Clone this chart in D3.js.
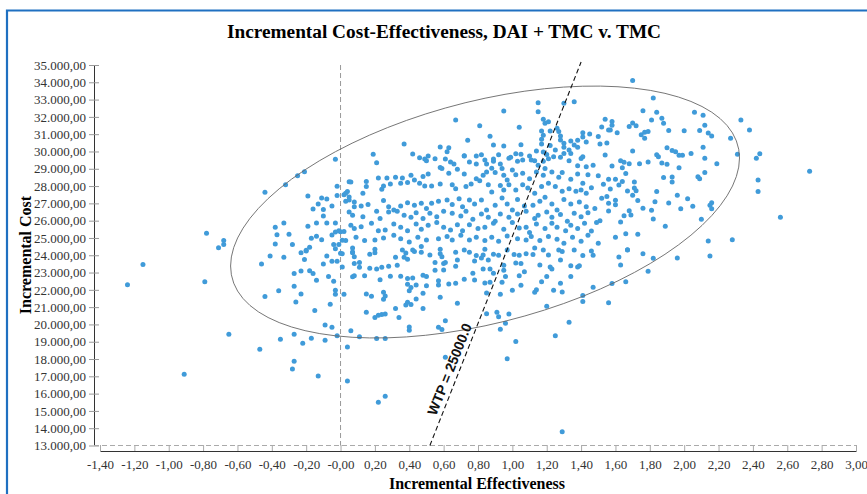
<!DOCTYPE html>
<html><head><meta charset="utf-8">
<script src="https://cdn.jsdelivr.net/npm/d3@7"></script>
<style>body{margin:0;background:#fff}svg{display:block}</style>
</head><body><svg id="c" width="867" height="494"></svg>
<script>
// ---- data: [incremental effectiveness, incremental cost in thousands] ----
const chartTitle = "Incremental Cost-Effectiveness, DAI + TMC v. TMC";
const xTitle = "Incremental Effectiveness";
const yTitle = "Incremental Cost";
const xTicks = [-1.4,-1.2,-1.0,-0.8,-0.6,-0.4,-0.2,0,0.2,0.4,0.6,0.8,1.0,1.2,1.4,1.6,1.8,2.0,2.2,2.4,2.6,2.8,3.0];
const xTickLabels = ["-1,40","-1,20","-1,00","-0,80","-0,60","-0,40","-0,20","-0,00","0,20","0,40","0,60","0,80","1,00","1,20","1,40","1,60","1,80","2,00","2,20","2,40","2,60","2,80","3,00"];
const yTicksK = [13,14,15,16,17,18,19,20,21,22,23,24,25,26,27,28,29,30,31,32,33,34,35];
const wtpK = 25;            // willingness to pay, thousands per unit effect
const wtpLabel = "WTP = 25000.0";
const ellipseCenter = [0.841, 26.50];
const ellipseL = [[1.481, 0], [3.122, 6.58]];

const ptsLeft = [[-1.15,23.46],[-1.24,22.30],[-0.79,22.47],[-0.65,19.43],[-0.91,17.12],[-0.47,18.57],[-0.35,19.14],[-0.27,19.43],[-0.28,17.43],[-0.27,17.87],[-0.22,18.91],[-0.17,19.20],[-0.13,17.02],[-0.09,19.09],[-0.09,19.97],[-0.05,19.84],[-0.02,19.34],[0.04,16.73],[0.04,18.70],[0.06,19.64],[-0.44,21.61],[-0.36,21.95],[-0.26,21.30],[-0.27,22.21],[-0.23,21.76],[-0.15,20.80],[-0.06,21.17],[-0.03,21.75],[-0.03,21.98],[0.02,21.75],[-0.04,22.50],[-0.07,22.77],[-0.14,22.55],[-0.16,22.94],[-0.18,23.11],[-0.23,23.09],[-0.27,22.94],[-0.46,23.50],[-0.41,23.96],[-0.33,23.88],[-0.23,24.15],[-0.20,24.25],[-0.21,23.75],[-0.10,23.50],[-0.08,23.96],[-0.05,23.65],[-0.02,23.65],[0.01,24.09],[0.01,23.32],[0.07,22.75],[0.07,24.15],
[-0.03,29.55],[-0.21,28.83],[-0.25,28.60],[-0.32,28.08],[-0.44,27.64],[-0.78,25.27],[-0.68,24.85],[-0.68,24.62],[-0.71,24.44],[0.05,28.25],[-0.02,27.99],[-0.02,27.45],[-0.19,27.43],[0.02,27.50],[0.04,27.68],[-0.11,27.31],[-0.08,27.25],[-0.13,26.97],[-0.05,26.85],[-0.16,26.68],[-0.10,26.64],[-0.10,26.27],[0.05,26.50],[0.03,27.12],[0.05,27.20],[0.08,26.81],[-0.33,25.87],[-0.38,25.62],[-0.37,25.19],[-0.30,25.21],[-0.19,25.68],[-0.14,25.87],[-0.08,25.87],[-0.03,25.87],[0.06,25.73],[-0.05,25.17],[-0.03,25.35],[-0.01,25.42],[0.00,25.36],[-0.14,25.10],[-0.17,24.98],[-0.11,24.90],[0.01,24.87],[-0.04,24.62],[-0.01,24.62],[-0.28,24.62],[-0.38,24.65],[-0.18,24.46],[-0.20,24.29],[-0.03,24.38],[0.00,24.11],[0.07,24.19],[0.05,27.37]];

const ptsRight = [[1.70,34.11],[1.82,33.09],[1.76,32.36],[1.84,32.27],[1.81,31.82],[1.87,31.92],[1.88,31.63],[1.91,31.22],[2.00,31.20],[2.06,32.27],[2.11,32.09],[2.12,31.51],[2.09,31.22],[2.14,31.07],[2.16,30.90],[2.33,31.82],[2.38,31.24],[2.27,30.76],[2.31,29.84],[2.44,29.87],[2.42,29.61],[2.73,28.85],[2.43,28.35],[2.43,27.68],[2.56,26.20],[2.28,24.90],[2.14,24.83],[2.15,23.96],[2.10,26.08],[2.16,27.04],[2.15,26.89],[2.16,26.69],[2.19,29.29],[2.12,29.61],[2.12,28.78],[2.08,28.54],[2.09,28.43],[2.11,30.24],[2.04,29.89],[1.99,29.78],[1.97,29.78],[1.95,29.99],[1.93,30.05],[1.90,30.22],[1.85,29.70],[1.84,29.81],[1.97,29.06],[1.90,29.26],[1.87,29.34],[1.79,29.39],[1.74,29.29],[1.70,30.03],[1.93,28.53],[1.88,28.49],[1.93,28.24],[2.02,27.27],[1.96,27.47],[1.98,26.69],[2.05,26.83],[1.91,27.02],[1.84,27.68],[1.83,27.10],[1.76,26.72],[1.81,26.60],[1.82,26.10],[1.89,25.68],[1.73,27.16],[1.71,27.89],[1.72,27.73],[1.70,27.47],[1.71,28.24],[1.67,27.72],[1.66,28.72],[1.68,26.58],[1.69,26.33],[1.65,26.29],[1.63,25.92],[1.60,26.92],[1.60,27.18],[1.56,26.56],[1.66,25.25],[1.73,25.21],[1.60,25.04],[1.67,24.32],[1.76,24.08],[1.62,23.90],[1.82,23.82],[1.96,23.84],[1.63,29.47],[1.65,29.38],[1.68,29.29],[1.58,29.16],[1.64,29.06],[1.56,28.39],[1.60,28.39],[1.64,28.27],[1.62,28.06],[1.68,31.44],[1.70,31.65],[1.72,31.49],[1.61,31.09],[1.58,31.51],[1.58,31.74],[1.57,31.24],[1.75,30.97],[1.77,30.76],[1.77,31.11],[1.79,31.15],[1.54,29.80],[1.57,27.83],[1.55,27.39],[1.56,27.00],
[1.63,23.44],[1.67,24.31],[1.58,22.36],[1.66,22.47],[1.79,23.07],[1.56,21.26],
[1.47,29.2],[1.50,28.6],[1.46,27.9],[1.52,27.3],[1.48,26.7],[1.51,26.0],[1.46,25.4],[1.50,24.7],[1.47,24.0],[1.53,28.1],[1.49,25.9]];

const ptsLower = [[1.29,13.80],[0.22,15.50],[0.26,15.85],[0.61,18.10],[0.97,18.02],[1.02,19.01],[1.25,19.35],[1.33,20.13],[1.41,21.32],[1.41,21.67],[1.47,22.15],[1.20,21.05],[0.96,20.07],[0.93,19.72],[0.98,20.61],[0.91,20.70],[0.92,20.45],[0.85,20.62],[0.61,20.22],[0.57,19.84],[0.59,19.70],[0.40,19.85],[0.40,19.66],[0.26,19.18],[0.21,19.18],[0.11,19.29],[0.34,20.40],[0.20,20.40],[0.22,20.53],[0.24,20.57],[0.26,20.61],[0.15,20.71],[0.32,20.92],[0.38,21.13],[0.41,21.15],[0.39,21.28],[0.48,20.92],[0.68,21.23],[0.58,21.57],[0.44,21.47],[0.48,21.80],[0.25,21.46],[0.26,21.65],[0.25,21.86],[0.15,21.76],[0.18,21.63],[0.85,21.82],[0.93,21.75],[1.00,21.98],[1.13,21.86],[1.14,22.00],[1.24,21.98],[1.29,21.88],[1.28,22.38],[1.17,22.47],[1.05,22.26],[0.94,22.44],[0.87,22.44],[0.84,22.40],[0.89,22.96],[0.96,22.77],[1.04,22.81],[1.07,23.04],[1.20,22.77],[1.23,23.21],[1.22,23.32],[1.34,22.77],[1.38,23.32],[1.39,23.40],[1.34,23.40],[1.28,23.73],[1.29,24.21],[1.41,23.98],[1.46,24.25],[1.21,24.02],[1.16,23.44],[1.12,24.04],[1.08,24.09],[1.04,24.00],[1.01,24.04],[1.02,23.55],[1.05,23.53],[0.95,23.13],[0.95,23.42],[0.92,24.00],[0.89,24.06],[0.86,23.73],[0.83,23.21],[0.87,23.21],[0.78,22.57],[0.77,22.96],[0.78,23.67],[0.82,23.84],[0.83,24.02],[0.72,22.61],[0.67,22.38],[0.63,22.34],[0.67,23.36],[0.60,23.53],[0.60,23.15],[0.55,23.13],[0.57,22.53],[0.57,22.28],[0.50,22.24],[0.48,22.84],[0.44,22.28],[0.42,22.69],[0.40,21.95],[0.41,22.13],[0.39,22.32],[0.39,22.65],[0.35,22.79],[0.29,22.79],[0.24,23.31],[0.23,22.59],[0.21,23.21],[0.17,23.25],[0.14,22.82],[0.08,22.82],[0.11,23.58],[0.11,23.31],[0.08,23.53],[0.08,23.92],[0.17,24.06],[0.20,24.15],[0.32,23.88],[0.28,23.36],[0.33,23.42],[0.37,23.88],[0.38,24.13],[0.39,23.77],[0.43,24.21],[0.47,24.17],[0.52,24.02],[0.58,24.08],[0.59,23.92],[0.61,23.58],[0.55,23.58],[0.67,24.17],[0.68,23.73],[0.75,24.17],[0.79,23.98],[0.50,22.77]];

const ptsUpper = [[1.15,32.82],[1.15,32.30],[1.30,32.79],[1.36,32.88],[0.95,32.34],[0.67,31.82],[0.81,31.49],[1.04,31.40],[1.18,31.86],[1.19,31.63],[1.21,31.72],[1.17,31.18],[1.18,30.94],[1.22,31.18],[1.26,31.34],[1.27,31.15],[1.28,30.90],[1.28,30.66],[1.30,30.47],[1.30,30.24],[1.17,30.71],[1.17,30.43],[1.22,30.34],[0.74,30.65],[0.87,30.88],[0.37,30.43],[0.19,29.84],[0.58,30.26],[0.63,30.22],[0.62,29.99],[0.89,30.38],[0.95,30.32],[1.05,30.39],[1.02,29.87],[1.05,29.84],[1.34,30.61],[1.38,30.65],[1.41,30.84],[1.45,31.01],[1.50,30.86],[1.52,31.42],[1.54,31.86],[1.56,31.24],[1.41,31.09],[1.43,30.55],[1.51,30.43],[1.55,30.49],[1.33,30.09],[1.36,30.38],[1.38,30.24],[0.42,29.86],[0.46,29.64],[0.49,29.57],[0.51,29.74],[0.55,29.58],[0.61,29.57],[0.72,29.76],[0.79,29.74],[0.82,29.81],[0.84,29.51],[0.89,29.57],[0.92,29.81],[0.98,29.61],[1.11,29.51],[1.14,30.03],[1.25,30.09],[1.21,29.58],[0.21,29.35]];

const ptsCore = [[0.50,29.47],[0.58,29.08],[0.64,29.39],[0.66,29.28],[0.72,29.74],[0.79,29.28],[0.85,29.28],[0.75,29.39],[0.89,29.43],[0.93,29.28],[0.88,29.03],[0.94,29.01],[0.99,29.66],[1.03,29.43],[1.06,29.51],[1.10,29.74],[1.13,29.47],[1.15,29.20],[1.18,29.43],[1.19,29.01],[1.18,29.97],[1.20,29.82],[1.24,29.70],[1.28,29.66],[1.33,29.47],[1.40,29.59],[1.43,29.12],[1.38,29.18],[1.41,29.70],[1.34,29.89],[1.30,29.89],
[0.06,28.24],[0.15,28.27],[0.22,28.47],[0.27,28.47],[0.32,28.51],[0.36,28.47],[0.41,28.62],[0.43,28.35],[0.48,28.55],[0.51,28.70],[0.59,29.01],[0.63,28.74],[0.68,28.97],[0.72,28.70],[0.79,28.43],[0.83,28.62],[0.85,28.82],[0.90,28.78],[0.95,28.62],[0.97,28.35],[1.00,28.93],[1.02,28.66],[1.06,28.74],[1.10,28.43],[1.14,28.82],[1.18,28.62],[1.23,28.82],[1.27,28.51],[1.29,28.78],[1.34,28.39],[1.38,28.70],[1.41,28.16],[1.44,28.66],
[0.03,27.58],[0.13,27.58],[0.15,27.97],[0.24,27.81],[0.25,28.01],[0.29,28.12],[0.35,28.16],[0.39,28.20],[0.46,28.16],[0.49,28.01],[0.53,28.01],[0.58,28.12],[0.65,28.08],[0.67,27.85],[0.73,27.97],[0.76,28.12],[0.81,28.31],[0.86,28.08],[0.88,27.66],[0.93,28.04],[0.95,27.77],[0.98,28.08],[1.02,27.77],[1.06,28.08],[1.09,27.89],[1.13,27.58],[1.17,27.97],[1.21,28.16],[1.25,27.97],[1.29,27.70],[1.33,27.85],[1.37,27.70],[1.40,27.77],[1.43,27.58],
[0.08,27.08],[0.12,26.85],[0.16,26.93],[0.21,26.54],[0.25,27.16],[0.28,26.81],[0.31,26.62],[0.35,26.85],[0.39,27.04],[0.43,26.89],[0.47,27.00],[0.50,26.70],[0.53,27.00],[0.57,27.12],[0.62,27.20],[0.65,26.93],[0.69,27.27],[0.71,26.81],[0.75,27.20],[0.78,26.97],[0.82,27.20],[0.85,26.62],[0.90,26.89],[0.94,27.31],[0.97,26.97],[1.00,26.62],[1.03,27.23],[1.07,26.85],[1.12,26.89],[1.16,27.12],[1.19,27.35],[1.23,26.97],[1.26,26.62],[1.30,27.23],[1.34,26.97],[1.39,27.08],[1.43,26.81],
[0.07,26.31],[0.13,26.23],[0.23,26.12],[0.28,26.50],[0.33,26.54],[0.37,26.31],[0.41,26.19],[0.44,26.46],[0.48,26.12],[0.52,26.43],[0.56,26.23],[0.60,26.54],[0.65,26.43],[0.70,26.27],[0.73,26.54],[0.77,26.08],[0.82,26.39],[0.86,26.19],[0.90,25.96],[0.93,26.39],[0.98,26.19],[1.03,26.39],[1.08,26.54],[1.13,26.12],[1.15,26.31],[1.20,26.50],[1.23,26.19],[1.28,26.35],[1.32,25.96],[1.36,26.43],[1.40,26.23],[1.44,26.46],
[0.02,25.38],[0.08,25.54],[0.12,25.65],[0.18,25.85],[0.22,25.42],[0.26,25.46],[0.31,25.81],[0.35,25.62],[0.39,25.42],[0.44,25.81],[0.47,25.50],[0.51,25.73],[0.56,25.89],[0.60,25.62],[0.64,25.46],[0.68,25.77],[0.71,25.42],[0.75,25.77],[0.80,25.54],[0.84,25.62],[0.89,25.85],[0.95,25.50],[1.00,25.89],[1.04,25.58],[1.08,25.62],[1.10,25.31],[1.14,25.81],[1.19,25.54],[1.23,25.85],[1.26,25.62],[1.31,25.42],[1.34,25.73],[1.38,25.54],[1.42,25.85],
[0.03,24.85],[0.09,25.04],[0.14,24.85],[0.20,24.88],[0.25,25.00],[0.31,25.15],[0.35,24.96],[0.40,24.77],[0.45,25.04],[0.50,24.88],[0.57,24.96],[0.62,25.08],[0.65,24.88],[0.70,25.15],[0.75,24.88],[0.79,25.04],[0.84,24.85],[0.88,25.04],[0.92,24.81],[0.97,25.12],[1.03,24.96],[1.08,24.88],[1.11,25.08],[1.16,24.85],[1.21,25.08],[1.26,24.92],[1.30,24.69],[1.35,25.04],[1.40,24.81],[1.44,25.15],
[0.07,24.42],[0.20,24.34],[0.36,24.31],[0.42,24.31],[0.47,24.50],[0.58,24.34],[0.72,24.31],[0.84,24.34],[0.97,24.31],[1.13,24.42],[1.18,24.31],[1.27,24.31],[1.36,24.31]];

// ---- drawing ----
const svg = d3.select("#c");
const serif = "'Liberation Serif','Times New Roman',serif";
const x = d3.scaleLinear().domain([-1.4, 3.0]).range([100, 856]);
const y = d3.scaleLinear().domain([13, 35]).range([445.5, 65]);
const loc = d3.formatLocale({decimal: ",", thousands: ".", grouping: [3], currency: ["", ""]});
const fmt = loc.format(",.2f");

svg.append("rect").attr("width", 867).attr("height", 494).attr("fill", "#fff");
svg.append("path").attr("d", "M7,494V10.5H867").attr("fill", "none")
  .attr("stroke", "#1f70c1").attr("stroke-width", 2.2);

svg.append("text").attr("x", 444).attr("y", 38).attr("text-anchor", "middle")
  .style("font-family", serif).style("font-weight", "bold").style("font-size", "19.3px").text(chartTitle);

// y axis
const gy = svg.append("g").attr("transform", "translate(94,0)")
  .call(d3.axisLeft(y).tickValues(yTicksK).tickSizeInner(5).tickSizeOuter(0).tickPadding(3)
    .tickFormat(d => fmt(d * 1000)));
gy.select(".domain").attr("stroke", "#333");
gy.selectAll(".tick line").attr("x1", 5).attr("stroke", "#999");
gy.selectAll("text").style("font-family", serif).style("font-size", "13px").attr("fill", "#333");

// x axis
const gx = svg.append("g").attr("transform", "translate(0,451)")
  .call(d3.axisBottom(x).tickValues(xTicks).tickSizeInner(-6).tickSizeOuter(0).tickPadding(9)
    .tickFormat((d, i) => xTickLabels[i]));
gx.select(".domain").attr("stroke", "#333");
gx.selectAll(".tick line").attr("stroke", "#aaa");
gx.selectAll("text").style("font-family", serif).style("font-size", "13px").attr("fill", "#333");

// dashed reference lines
svg.append("line").attr("x1", 94).attr("x2", x(3.0)).attr("y1", y(13)).attr("y2", y(13))
  .attr("stroke", "#aaa").attr("stroke-dasharray", "5,3");
svg.append("line").attr("x1", x(0)).attr("x2", x(0)).attr("y1", y(35)).attr("y2", y(13))
  .attr("stroke", "#999").attr("stroke-dasharray", "5,3");

// axis titles
svg.append("text").attr("x", 477).attr("y", 489).attr("text-anchor", "middle")
  .style("font-family", serif).style("font-weight", "bold").style("font-size", "16px").text(xTitle);
svg.append("text").attr("transform", "translate(30.5,255) rotate(-90)").attr("text-anchor", "middle")
  .style("font-family", serif).style("font-weight", "bold").style("font-size", "16px").text(yTitle);

// points
const allPts = [].concat(ptsLeft, ptsRight, ptsLower, ptsUpper, ptsCore);
svg.append("g").selectAll("circle").data(allPts).join("circle")
  .attr("cx", d => x(d[0])).attr("cy", d => y(d[1])).attr("r", 2.5).attr("fill", "#409bd9");

// confidence ellipse
const ts = d3.range(0, 2 * Math.PI + 0.001, Math.PI / 40);
const ell = ts.map(t => [
  ellipseCenter[0] + ellipseL[0][0] * Math.cos(t) + ellipseL[0][1] * Math.sin(t),
  ellipseCenter[1] + ellipseL[1][0] * Math.cos(t) + ellipseL[1][1] * Math.sin(t)]);
svg.append("path").attr("d", d3.line().x(d => x(d[0])).y(d => y(d[1]))(ell))
  .attr("fill", "none").attr("stroke", "#666").attr("stroke-width", 0.9);

// WTP line
const w0 = [13 / wtpK, 13], w1 = [35 / wtpK, 35];
svg.append("line").attr("x1", x(w0[0])).attr("y1", y(w0[1])).attr("x2", x(w1[0])).attr("y2", y(w1[1]) - 3)
  .attr("stroke", "#111").attr("stroke-dasharray", "5,3").attr("stroke-width", 1.1);
const ang = Math.atan2(y(w1[1]) - y(w0[1]), x(w1[0]) - x(w0[0])) * 180 / Math.PI;
const lc = 17.2;
svg.append("text").attr("transform", `translate(${x(lc / wtpK)},${y(lc)}) rotate(${ang})`)
  .attr("y", -5).attr("text-anchor", "middle")
  .style("font-family", "'Liberation Sans',Arial,sans-serif").style("font-weight", "bold").style("font-size", "14px")
  .attr("fill", "#111").text(wtpLabel);
</script></body></html>
